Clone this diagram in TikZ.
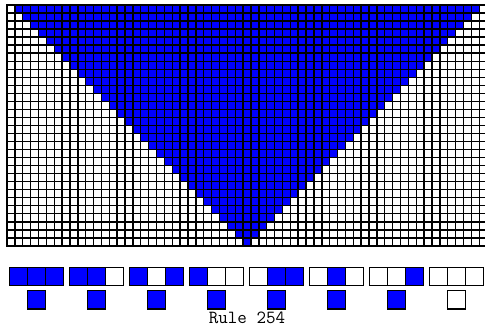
\documentclass[tikz,border=0pt]{standalone}
\usepackage{fontspec}
\definecolor{cablue}{RGB}{0,0,255}
\definecolor{gridline}{RGB}{0,0,0}
\tikzset{
  cellon/.style={fill=cablue},
  celloff/.style={fill=white},
  gridback/.style={fill=gridline},
}
\begin{document}
\begin{tikzpicture}[x=1pt,y=-1pt]
\useasboundingbox (0,0) rectangle (485,328);
\fill[white] (0,0) rectangle (485,328);
\begin{scope}
\clip (0,0) rectangle (485,328);
\path[gridback] (6.3,4.3) rectangle (487.8,246.6);
\foreach \r in {0,...,29}{
  \pgfmathsetmacro\ya{5+8.03*\r+0.7}
  \foreach \c in {0,...,60}{
    \pgfmathtruncatemacro\d{abs(\c-30)}
    \pgfmathsetmacro\xa{7+7.87*\c+0.7}
    \ifnum\d<\numexpr30-\r\relax
      \path[cellon] (\xa,\ya) rectangle ++(6.47,6.63);
    \else
      \path[celloff] (\xa,\ya) rectangle ++(6.47,6.63);
    \fi
  }
}
\end{scope}
% rule table for rule 254
\foreach \g/\a/\b/\cc/\o in {0/1/1/1/1,1/1/1/0/1,2/1/0/1/1,3/1/0/0/1,4/0/1/1/1,5/0/1/0/1,6/0/0/1/1,7/0/0/0/0}{
  \pgfmathsetmacro\gx{9.3+60*\g}
  \path[gridback] (\gx-0.6,266.7) rectangle ++(55.2,19.6);
  \foreach \k/\v in {0/\a,1/\b,2/\cc}{
    \ifnum\v=1
      \path[cellon] (\gx+18*\k+0.6,267.9) rectangle ++(16.8,17.2);
    \else
      \path[celloff] (\gx+18*\k+0.6,267.9) rectangle ++(16.8,17.2);
    \fi
  }
  \path[gridback] (\gx+17.4,289.6) rectangle ++(19.2,20);
  \ifnum\o=1
    \path[cellon] (\gx+18.6,290.8) rectangle ++(16.8,17.6);
  \else
    \path[celloff] (\gx+18.6,290.8) rectangle ++(16.8,17.6);
  \fi
}
\node[font=\ttfamily\fontsize{18.5}{20}\selectfont,anchor=base,inner sep=0pt] (lbl) at (247,324) {Rule 254};
\end{tikzpicture}
\end{document}
